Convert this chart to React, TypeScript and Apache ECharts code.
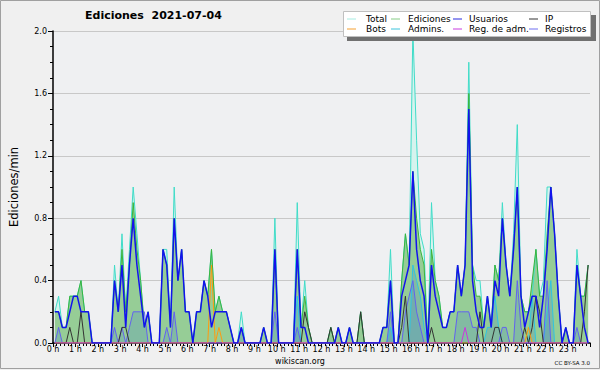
import React, { useEffect, useRef } from "react";
import * as echarts from "echarts";

// 10-minute bins, 144 per day (values in edits/min)
const total = [
  0.2, 0.3, 0.1, 0.1, 0.3, 0.3,
  0.3, 0.4, 0.2, 0.2, 0, 0,
  0, 0, 0, 0, 0.5, 0.2,
  0.7, 0.2, 0.6, 1.0, 0.7, 0.4,
  0.1, 0.2, 0, 0, 0, 0.6,
  0.6, 0.1, 1.0, 0.4, 0.6, 0.2,
  0.2, 0, 0.2, 0.2, 0.4, 0.3,
  0.6, 0.2, 0.3, 0.2, 0.2, 0.1,
  0, 0, 0.2, 0, 0, 0,
  0, 0, 0.1, 0, 0, 0.8,
  0, 0, 0, 0, 0, 0.9,
  0.1, 0.4, 0.1, 0, 0, 0,
  0, 0, 0.1, 0, 0.1, 0,
  0, 0.1, 0, 0, 0.2, 0,
  0, 0, 0, 0, 0.1, 0.1,
  0.6, 0, 0, 0.4, 0.7, 0.5,
  2.0, 1.3, 0.7, 0.6, 0, 0.9,
  0.4, 0.3, 0.1, 0.1, 0.2, 0.2,
  0.5, 0.3, 0.5, 1.8, 0.5, 0.4,
  0.4, 0.1, 0.3, 0.1, 0.5, 0.4,
  0.9, 0.5, 0.3, 0.7, 1.4, 0.3,
  0.2, 0.2, 0.3, 0.6, 0.3, 0.4,
  1.0, 1.0, 0.7, 0.3, 0, 0.1,
  0, 0, 0.6, 0.3, 0.3, 0.5,
];

const ediciones = [
  0.2, 0.2, 0.1, 0.1, 0.3, 0.3,
  0.3, 0.4, 0.2, 0.2, 0, 0,
  0, 0, 0, 0, 0.4, 0.2,
  0.6, 0.2, 0.5, 0.9, 0.6, 0.4,
  0.1, 0.2, 0, 0, 0, 0.6,
  0.5, 0.1, 0.8, 0.4, 0.6, 0.2,
  0.2, 0, 0.2, 0.2, 0.4, 0.3,
  0.6, 0.2, 0.3, 0.2, 0.2, 0.1,
  0, 0, 0.1, 0, 0, 0,
  0, 0, 0.1, 0, 0, 0.6,
  0, 0, 0, 0, 0, 0.6,
  0.1, 0.3, 0.1, 0, 0, 0,
  0, 0, 0.1, 0, 0.1, 0,
  0, 0.1, 0, 0, 0.2, 0,
  0, 0, 0, 0, 0.1, 0.1,
  0.4, 0, 0, 0.4, 0.7, 0.5,
  1.1, 0.8, 0.6, 0.5, 0, 0.6,
  0.4, 0.3, 0.1, 0.1, 0.2, 0.2,
  0.5, 0.3, 0.5, 1.6, 0.5, 0.3,
  0.3, 0.1, 0.3, 0.1, 0.5, 0.4,
  0.8, 0.5, 0.3, 0.6, 1.0, 0.3,
  0.2, 0.2, 0.4, 0.6, 0.3, 0.3,
  0.7, 1.0, 0.7, 0.3, 0, 0.1,
  0, 0, 0.5, 0.3, 0.3, 0.5,
];

const usuarios = [
  0.2, 0.2, 0.1, 0.1, 0.2, 0.3,
  0.3, 0.2, 0.2, 0.2, 0, 0,
  0, 0, 0, 0, 0.4, 0.2,
  0.5, 0.1, 0.5, 0.8, 0.5, 0.3,
  0.1, 0.2, 0, 0, 0, 0.6,
  0.5, 0.1, 0.8, 0.4, 0.6, 0.2,
  0.2, 0, 0.2, 0.2, 0.4, 0.3,
  0.1, 0.2, 0.2, 0.2, 0.2, 0.1,
  0, 0, 0.1, 0, 0, 0,
  0, 0, 0.1, 0, 0, 0.6,
  0, 0, 0, 0, 0, 0.6,
  0.1, 0.1, 0, 0, 0, 0,
  0, 0, 0, 0, 0.1, 0,
  0, 0.1, 0, 0, 0, 0,
  0, 0, 0, 0, 0.1, 0.1,
  0.4, 0, 0, 0.3, 0.4, 0.5,
  1.1, 0.6, 0.4, 0.3, 0, 0.5,
  0.3, 0.2, 0.1, 0.1, 0.2, 0.2,
  0.5, 0.3, 0.5, 1.5, 0.4, 0.2,
  0.1, 0.1, 0.3, 0.1, 0.4, 0.3,
  0.8, 0.5, 0.3, 0.6, 1.0, 0.3,
  0.1, 0.2, 0.3, 0.3, 0.1, 0.3,
  0.6, 1.0, 0.7, 0.3, 0, 0.1,
  0, 0, 0.5, 0.3, 0.1, 0,
];

const ip = [
  0, 0, 0, 0, 0.1, 0,
  0, 0.2, 0, 0, 0, 0,
  0, 0, 0, 0, 0, 0,
  0.1, 0.1, 0, 0, 0, 0,
  0, 0, 0, 0, 0, 0,
  0, 0, 0, 0, 0, 0,
  0, 0, 0, 0, 0, 0,
  0, 0, 0, 0, 0, 0,
  0, 0, 0, 0, 0, 0,
  0, 0, 0, 0, 0, 0,
  0, 0, 0, 0, 0, 0,
  0, 0.2, 0.1, 0, 0, 0,
  0, 0, 0.1, 0, 0, 0,
  0, 0, 0, 0, 0.2, 0,
  0, 0, 0, 0, 0, 0,
  0, 0, 0, 0.1, 0.3, 0,
  0, 0, 0, 0, 0, 0.1,
  0, 0, 0, 0, 0, 0,
  0, 0, 0, 0, 0, 0,
  0.2, 0, 0, 0, 0.1, 0.1,
  0, 0, 0, 0, 0, 0,
  0.1, 0, 0.1, 0.3, 0.2, 0,
  0, 0, 0, 0, 0, 0,
  0, 0, 0, 0, 0.2, 0.5,
];

const bots = [
  0, 0, 0, 0, 0, 0,
  0, 0, 0, 0, 0, 0,
  0, 0, 0, 0, 0, 0,
  0, 0, 0, 0, 0, 0,
  0, 0, 0, 0, 0, 0,
  0, 0, 0, 0, 0, 0,
  0, 0, 0, 0, 0, 0,
  0.5, 0, 0.1, 0, 0, 0,
  0, 0, 0, 0, 0, 0,
  0, 0, 0, 0, 0, 0,
  0, 0, 0, 0, 0, 0,
  0, 0, 0, 0, 0, 0,
  0, 0, 0, 0, 0, 0,
  0, 0, 0, 0, 0, 0,
  0, 0, 0, 0, 0, 0,
  0, 0, 0, 0, 0, 0,
  0, 0, 0, 0, 0, 0,
  0, 0, 0, 0, 0, 0,
  0, 0, 0, 0, 0, 0,
  0, 0, 0, 0, 0, 0,
  0, 0, 0, 0, 0, 0,
  0, 0.1, 0, 0, 0, 0,
  0, 0, 0, 0, 0, 0,
  0, 0, 0, 0, 0, 0,
];

const admins = [
  0, 0, 0, 0, 0, 0,
  0, 0, 0, 0, 0, 0,
  0, 0, 0, 0, 0, 0,
  0, 0, 0, 0, 0, 0,
  0, 0, 0, 0, 0, 0,
  0, 0, 0, 0, 0, 0,
  0, 0, 0, 0, 0, 0,
  0, 0, 0, 0, 0, 0,
  0, 0, 0, 0, 0, 0,
  0, 0, 0, 0, 0, 0,
  0, 0, 0, 0, 0, 0.3,
  0, 0, 0, 0, 0, 0,
  0, 0, 0, 0, 0, 0,
  0, 0, 0, 0, 0, 0,
  0, 0, 0, 0, 0, 0,
  0.1, 0, 0, 0, 0, 0,
  0.5, 0.4, 0.3, 0.1, 0, 0,
  0, 0, 0, 0, 0, 0,
  0, 0, 0, 0, 0, 0,
  0, 0, 0.1, 0.1, 0.3, 0.1,
  0, 0, 0, 0, 0, 0,
  0, 0, 0.3, 0, 0, 0,
  0.2, 0.4, 0, 0, 0, 0,
  0, 0, 0, 0, 0, 0,
];

const regAdm = [
  0, 0, 0, 0, 0, 0,
  0, 0, 0, 0, 0, 0,
  0, 0, 0, 0, 0, 0,
  0, 0, 0, 0, 0, 0,
  0, 0, 0, 0, 0, 0,
  0, 0, 0, 0, 0, 0,
  0, 0, 0, 0, 0, 0,
  0, 0, 0, 0, 0, 0,
  0, 0, 0, 0, 0, 0,
  0, 0, 0, 0, 0, 0,
  0, 0, 0, 0, 0, 0,
  0, 0, 0, 0, 0, 0,
  0, 0, 0, 0, 0, 0,
  0, 0, 0, 0, 0, 0,
  0, 0, 0, 0, 0, 0,
  0, 0, 0, 0, 0, 0,
  0, 0, 0, 0, 0, 0,
  0, 0, 0, 0, 0, 0,
  0, 0, 0.1, 0, 0, 0,
  0, 0, 0, 0, 0, 0,
  0, 0, 0, 0, 0, 0,
  0, 0, 0, 0, 0, 0,
  0, 0, 0, 0, 0, 0,
  0, 0, 0, 0, 0, 0,
];

const registros = [
  0, 0.1, 0, 0, 0, 0,
  0, 0, 0, 0, 0, 0,
  0, 0, 0, 0, 0.1, 0,
  0.1, 0, 0.1, 0.2, 0.2, 0.2,
  0.2, 0, 0, 0, 0, 0,
  0.1, 0, 0.2, 0, 0, 0,
  0, 0, 0, 0, 0, 0,
  0, 0, 0, 0, 0, 0,
  0, 0, 0.1, 0, 0, 0,
  0, 0, 0, 0, 0, 0.2,
  0, 0, 0, 0, 0, 0.1,
  0, 0, 0, 0, 0, 0,
  0, 0, 0, 0, 0, 0,
  0, 0, 0, 0, 0, 0,
  0, 0, 0, 0, 0, 0,
  0.2, 0, 0, 0, 0.2, 0.3,
  0.4, 0.2, 0.1, 0, 0, 0,
  0, 0, 0, 0, 0, 0,
  0.2, 0.2, 0.2, 0.2, 0.1, 0.1,
  0, 0, 0, 0, 0, 0,
  0.1, 0.1, 0, 0, 0.4, 0.1,
  0, 0, 0, 0, 0, 0,
  0.4, 0, 0, 0, 0, 0,
  0, 0, 0.1, 0, 0, 0,
];

const yTicks = [0, 0.4, 0.8, 1.2, 1.6, 2.0];
const titleText = "Ediciones  2021-07-04";
const yName = "Ediciones/min";

const legendItems = [
  { name: "Total", color: "#a6ece2" },
  { name: "Ediciones", color: "#86cc86" },
  { name: "Usuarios", color: "#2a2ae0" },
  { name: "IP", color: "#333333" },
  { name: "Bots", color: "#f5a030" },
  { name: "Admins.", color: "#3cc4dc" },
  { name: "Reg. de adm.", color: "#c83ce0" },
  { name: "Registros", color: "#6e6ef0" },
];

const FONT = "DejaVu Sans";

function pts(arr: number[]) {
  return arr.map((v, i) => [i + 0.5, v]);
}

export default function App() {
  const ref = useRef<HTMLDivElement>(null);
  useEffect(() => {
    if (!ref.current) return;
    const chart = echarts.init(ref.current, undefined, { renderer: "svg" });

    const colX = [347, 391, 453, 529];
    const textX = [366, 408, 469, 545];
    const rowY = [19, 29];
    const legendGraphics: any[] = [
      { type: "rect", z: 100, shape: { x: 347, y: 15, width: 249, height: 26 }, style: { fill: "#707070" } },
      { type: "rect", z: 101, shape: { x: 343.5, y: 11.5, width: 247, height: 25 }, style: { fill: "#ffffff", stroke: "#c0c0c0", lineWidth: 1 } },
    ];
    legendItems.forEach((it, k) => {
      const col = k % 4;
      const row = Math.floor(k / 4);
      legendGraphics.push({
        type: "line", z: 102,
        shape: { x1: colX[col], y1: rowY[row], x2: colX[col] + 9, y2: rowY[row] },
        style: { stroke: it.color, lineWidth: 1 },
      });
      legendGraphics.push({
        type: "text", z: 102, x: textX[col], y: rowY[row],
        style: { text: it.name, fill: "#000", font: `9px "${FONT}"`, lineHeight: 9, textVerticalAlign: "middle", verticalAlign: "middle" },
      });
    });

    const lineSeries = (name: string, data: number[], color: string, width: number, area?: any) => ({
      name, type: "line", data: pts(data), showSymbol: false, symbol: "none", silent: true,
      lineStyle: { color, width }, itemStyle: { color },
      areaStyle: area, z: 2,
    });

    chart.setOption({
      animation: false,
      backgroundColor: "#f0f0f0",
      textStyle: { fontFamily: FONT },
      title: {
        text: titleText, left: 85, top: 10, padding: 0,
        textStyle: { fontSize: 11, fontWeight: "bold", color: "#000", fontFamily: FONT },
      },
      grid: { left: 45, right: 10, top: 31, bottom: 27, show: true, backgroundColor: "#eff0f2", borderWidth: 0 },
      xAxis: {
        type: "value", min: 0, max: 144, interval: 6,
        axisLine: { show: true, onZero: false, lineStyle: { color: "#000", width: 1.5 } },
        axisTick: { show: true, length: 4, lineStyle: { color: "#000" } },
        minorTick: { show: true, splitNumber: 6, length: 3, lineStyle: { color: "#000" } },
        axisLabel: {
          fontSize: 8, color: "#000", margin: 2, fontFamily: FONT,
          formatter: (v: number) => (v >= 144 ? "" : `${v / 6} h`),
        },
        splitLine: { show: false },
      },
      yAxis: {
        type: "value", min: 0, max: 2, interval: 0.4,
        name: yName, nameLocation: "middle", nameGap: 33,
        nameTextStyle: { fontSize: 11.5, color: "#000", fontFamily: FONT },
        axisLine: { show: true, lineStyle: { color: "#000", width: 1.5 } },
        axisTick: { show: true, length: 5, lineStyle: { color: "#000" } },
        minorTick: { show: true, splitNumber: 4, length: 3, lineStyle: { color: "#000" } },
        axisLabel: {
          fontSize: 8, color: "#000", margin: 6, fontFamily: FONT,
          formatter: (v: number) => (yTicks.some((t) => Math.abs(t - v) < 1e-6) ? v.toFixed(1) : ""),
        },
        splitLine: { show: true, lineStyle: { color: "#c8c8c8", width: 1 } },
      },
      graphic: [
        { type: "rect", z: 90, shape: { x: 0.5, y: 0.5, width: 599, height: 368 }, style: { fill: "none", stroke: "#a0a0a0", lineWidth: 1 } },
        { type: "text", z: 90, x: 300, y: 361, style: { text: "wikiscan.org", fill: "#000", font: `8px "${FONT}"`, textAlign: "center", align: "center", textVerticalAlign: "middle", verticalAlign: "middle" } },
        { type: "text", z: 90, x: 590, y: 363, style: { text: "CC BY-SA 3.0", fill: "#000", font: `5.5px "${FONT}"`, textAlign: "right", align: "right", textVerticalAlign: "middle", verticalAlign: "middle" } },
        ...legendGraphics,
      ],
      series: [
        lineSeries("Total", total, "#40dcc8", 1, { color: "#d6f3ee", opacity: 1 }),
        lineSeries("Ediciones", ediciones, "#3cb43c", 1, { color: "#96cd96", opacity: 1 }),
        lineSeries("Admins.", admins, "#30c4e0", 1, { color: "rgba(40,110,220,0.25)" }),
        lineSeries("Registros", registros, "#6262f0", 1, { color: "rgba(40,110,220,0.25)" }),
        lineSeries("IP", ip, "#333333", 1),
        lineSeries("Bots", bots, "#ff9a10", 1),
        lineSeries("Reg. de adm.", regAdm, "#cc33dd", 1),
        lineSeries("Usuarios", usuarios, "#1212ee", 1.5),
      ],
    });
    return () => chart.dispose();
  }, []);

  return <div ref={ref} style={{ position: "absolute", left: 0, top: 0, width: 600, height: 370 }} />;
}
